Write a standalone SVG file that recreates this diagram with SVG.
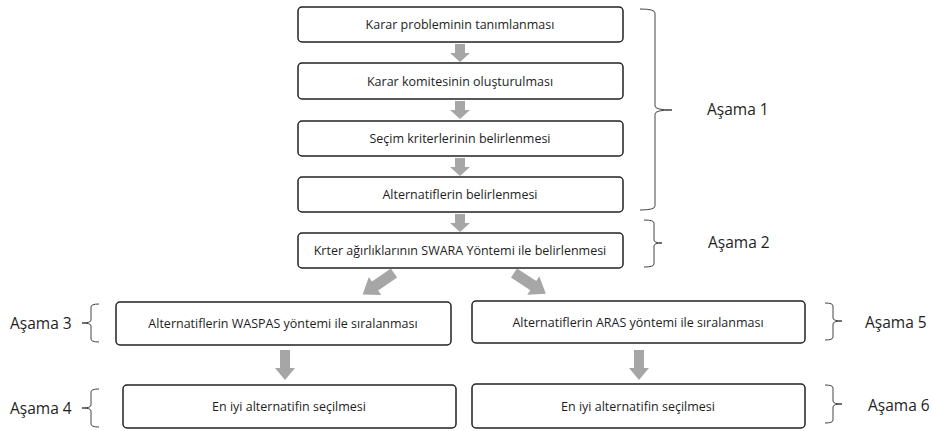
<svg xmlns="http://www.w3.org/2000/svg" width="933" height="431" viewBox="0 0 933 431">
<style>
.box{fill:#fff;stroke:#222;stroke-width:1.5}
.t{font-family:"Open Sans","Liberation Sans",sans-serif;font-size:12.5px;fill:#1e1e1e;text-anchor:middle}
.lab{font-family:"Open Sans","Liberation Sans",sans-serif;font-size:15.5px;fill:#1e1e1e}
.br{fill:none;stroke:#444;stroke-width:1}
.ar{fill:#a6a6a6}
</style>
<defs>
<path id="dn" d="M-5,0 H5 V9 H10 L0,18 L-10,9 H-5 Z"/>
<path id="dnl" d="M-5,0 H5 V18 H10 L0,30 L-10,18 H-5 Z"/>
<path id="dg" d="M0,-5.5 H23 V-11 L38,0 L23,11 V5.5 H0 Z"/>
</defs>
<rect width="933" height="431" fill="#fff"/>
<g id="connectors">
<use href="#dn" class="ar" x="460" y="44"/>
<use href="#dn" class="ar" x="460" y="101"/>
<use href="#dn" class="ar" x="460" y="158"/>
<use href="#dn" class="ar" x="460" y="214"/>
<use href="#dg" class="ar" transform="translate(394,273) rotate(145.5)"/>
<use href="#dg" class="ar" transform="translate(514,273) rotate(33)"/>
<use href="#dnl" class="ar" x="285" y="350"/>
<use href="#dnl" class="ar" x="639" y="350"/>
</g>
<g id="n1"><rect class="box" x="298" y="7" width="325" height="35" rx="4"/><text class="t" x="460" y="29">Karar probleminin tanımlanması</text></g>
<g id="n2"><rect class="box" x="298" y="63" width="325" height="36" rx="4"/><text class="t" x="460" y="86">Karar komitesinin oluşturulması</text></g>
<g id="n3"><rect class="box" x="298" y="121" width="325" height="35" rx="4"/><text class="t" x="460" y="143">Seçim kriterlerinin belirlenmesi</text></g>
<g id="n4"><rect class="box" x="298" y="177" width="325" height="35" rx="4"/><text class="t" x="460" y="199">Alternatiflerin belirlenmesi</text></g>
<g id="n5"><rect class="box" x="298" y="233" width="325" height="35" rx="4"/><text class="t" x="460" y="255">Krter ağırlıklarının SWARA Yöntemi ile belirlenmesi</text></g>
<g id="n6"><rect class="box" x="116" y="302" width="335" height="43" rx="4"/><text class="t" x="283" y="328">Alternatiflerin WASPAS yöntemi ile sıralanması</text></g>
<g id="n7"><rect class="box" x="472" y="301" width="333" height="42" rx="4"/><text class="t" x="638" y="327">Alternatiflerin ARAS yöntemi ile sıralanması</text></g>
<g id="n8"><rect class="box" x="123" y="385" width="333" height="43" rx="4"/><text class="t" x="289" y="411">En iyi alternatifin seçilmesi</text></g>
<g id="n9"><rect class="box" x="472" y="384" width="333" height="44" rx="4"/><text class="t" x="638" y="411">En iyi alternatifin seçilmesi</text></g>
<g id="stages">
<path class="br" d="M640,9 Q655,9 655,13 V106 Q655,110 672,110 Q655,110 655,114 V206 Q655,210 640,210"/>
<text class="lab" x="707" y="115">Aşama 1</text>
<path class="br" d="M644,220 Q654,220 654,223 V240 Q654,243 662,243 Q654,243 654,246 V264 Q654,267 644,267"/>
<text class="lab" x="708" y="248">Aşama 2</text>
<path class="br" d="M99,304 Q91,304 91,307 V320 Q91,323 82,323 Q91,323 91,326 V339 Q91,342 99,342"/>
<text class="lab" x="10" y="329">Aşama 3</text>
<path class="br" d="M99,389 Q91,389 91,392 V405 Q91,408 82,408 Q91,408 91,411 V424 Q91,427 99,427"/>
<text class="lab" x="10" y="414">Aşama 4</text>
<path class="br" d="M825,303 Q833,303 833,306 V318 Q833,321 842,321 Q833,321 833,324 V337 Q833,340 825,340"/>
<text class="lab" x="865" y="328">Aşama 5</text>
<path class="br" d="M825,385 Q833,385 833,388 V401 Q833,404 842,404 Q833,404 833,407 V420 Q833,423 825,423"/>
<text class="lab" x="868" y="411">Aşama 6</text>
</g>
</svg>
